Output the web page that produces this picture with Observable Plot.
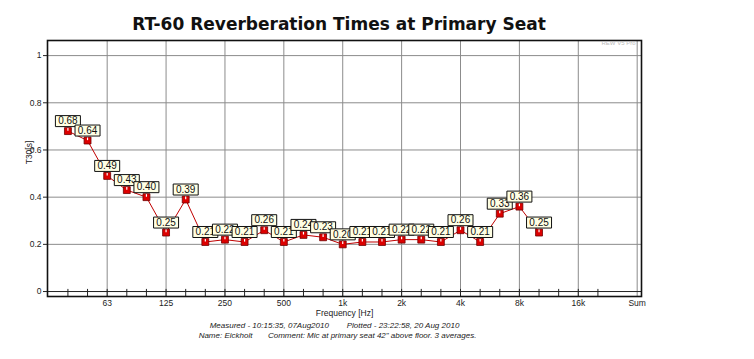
<!DOCTYPE html>
<html>
<head>
<meta charset="utf-8">
<script src="https://cdn.jsdelivr.net/npm/d3@7"></script>
<script src="https://cdn.jsdelivr.net/npm/@observablehq/plot@0.6"></script>
<style>body{margin:0;background:#fff}</style>
</head>
<body>
<div id="chart"></div>
<script>
// 1/3-octave band positions along the x axis (last slot is "Sum")
const bands = ["31.5","40","50","63","80","100","125","160","200","250","315","400","500","630","800","1k","1.25k","1.6k","2k","2.5k","3.15k","4k","5k","6.3k","8k","10k","12.5k","16k","20k","25k","Sum"];
// measured bands and T30 values [s]
const freqs = ["40","50","63","80","100","125","160","200","250","315","400","500","630","800","1k","1.25k","1.6k","2k","2.5k","3.15k","4k","5k","6.3k","8k","10k"];
const t30 = [0.68,0.64,0.49,0.43,0.40,0.25,0.39,0.21,0.22,0.21,0.26,0.21,0.24,0.23,0.20,0.21,0.21,0.22,0.22,0.21,0.26,0.21,0.33,0.36,0.25];
// axis ticks
const xLabelTicks = ["63","125","250","500","1k","2k","4k","8k","16k","Sum"];
const xMinorTicks = bands.slice(1, 29);
const yTicks = [0, 0.2, 0.4, 0.6, 0.8, 1];
const yGrid = [0.2, 0.4, 0.6, 0.8, 1];

const titleText = "RT-60 Reverberation Times at Primary Seat";
const xTitle = "Frequency [Hz]";
const yTitle = "T30[s]";
const footer1 = "Measured - 10:15:35, 07Aug2010\u00a0\u00a0\u00a0\u00a0\u00a0\u00a0\u00a0\u00a0Plotted - 23:22:58, 20 Aug 2010";
const footer2 = "Name: Eickholt\u00a0\u00a0\u00a0\u00a0\u00a0\u00a0\u00a0Comment: Mic at primary seat 42\" above floor. 3 averages.";
const watermark = "REW V5 Pro";

const bandIndex = f => bands.indexOf(f);
const data = freqs.map((f, i) => ({i: bandIndex(f), v: t30[i]}));
const labelIdx = xLabelTicks.map(bandIndex);
const minorIdx = xMinorTicks.map(bandIndex);

const boxSymbol = {draw(ctx) { ctx.rect(-12.5, -5.5, 25, 11); }};
const shineSymbol = {draw(ctx) { ctx.rect(-0.6, -3, 1.2, 2.6); }};

const labelMarks = data.flatMap(d => [
  Plot.dot([d], {x: "i", y: "v", symbol: boxSymbol, r: 1, fill: "#ffffe4", stroke: "#111", strokeWidth: 1, dy: -10}),
  Plot.text([d], {x: "i", y: "v", text: d => d.v.toFixed(2), dy: -10, fontSize: 10, fill: "#111", fontFamily: "Liberation Sans, Arial, sans-serif"})
]);

const mid = {lineAnchor: "middle", textAnchor: "middle"};

const chart = Plot.plot({
  width: 754,
  height: 359,
  marginTop: 40,
  marginBottom: 63,
  marginLeft: 47,
  marginRight: 113,
  style: {fontFamily: "'Liberation Sans', Arial, sans-serif", background: "#fff", color: "#222"},
  x: {type: "linear", domain: [-0.04, 30.22]},
  y: {domain: [-0.021, 1.064]},
  marks: [
    Plot.ruleX(labelIdx, {stroke: "#8c8c8c", strokeWidth: 1}),
    Plot.ruleY(yGrid, {stroke: "#8c8c8c", strokeWidth: 1}),
    Plot.ruleY([0], {stroke: "#222", strokeWidth: 1}),
    Plot.ruleX(minorIdx, {y1: -0.021, y2: 0.009, stroke: "#222", strokeWidth: 1}),
    Plot.frame({stroke: "#111", strokeWidth: 1.6}),
    Plot.axisY(yTicks, {tickSize: 4, tickPadding: 2, label: null, fontSize: 8.5, tickFormat: d => String(d)}),
    Plot.axisX(labelIdx, {tickSize: 0, tickPadding: 3, label: null, fontSize: 8.5, tickFormat: i => bands[i]}),
    Plot.text([xTitle], {...mid, frameAnchor: "bottom", dy: 17, fontSize: 8.5}),
    Plot.text([footer1], {...mid, frameAnchor: "bottom", dy: 29, dx: -10, fontSize: 8, fontStyle: "italic"}),
    Plot.text([footer2], {...mid, frameAnchor: "bottom", dy: 39, dx: -7, fontSize: 8, fontStyle: "italic"}),
    Plot.text([yTitle], {...mid, frameAnchor: "left", dx: -18, dy: -16, rotate: -90, fontSize: 8.5}),
    Plot.text([titleText], {...mid, frameAnchor: "top", dy: -16, dx: -5.5, fontSize: 17, fontWeight: "bold", fontFamily: "'DejaVu Sans', Verdana, sans-serif", fill: "#111"}),
    Plot.text([watermark], {frameAnchor: "top-right", lineAnchor: "middle", textAnchor: "end", dx: -6, dy: 3, fontSize: 6, fill: "#bbb"}),
    Plot.line(data, {x: "i", y: "v", stroke: "#c00000", strokeWidth: 1}),
    Plot.dot(data, {x: "i", y: "v", symbol: "square", r: 3.9, fill: "#dd0000", stroke: "#700000", strokeWidth: 0.8}),
    Plot.dot(data, {x: "i", y: "v", symbol: shineSymbol, r: 1, fill: "#fff", stroke: null}),
    ...labelMarks
  ]
});
document.getElementById("chart").appendChild(chart);
</script>
</body>
</html>
